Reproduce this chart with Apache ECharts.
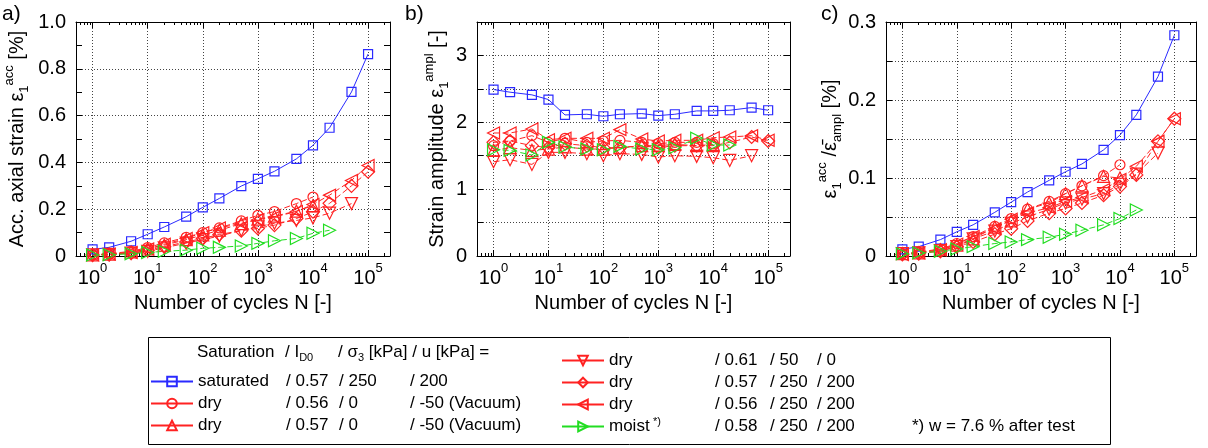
<!DOCTYPE html>
<html>
<head>
<meta charset="utf-8">
<script src="https://cdn.jsdelivr.net/npm/echarts@6/dist/echarts.min.js"></script>
<style>
html,body{margin:0;padding:0;background:#fff;}
#main{width:1208px;height:448px;}
</style>
</head>
<body>
<div id="main"></div>
<script>
// ---------- DATA ----------
const cycles = [1, 2, 5, 10, 20, 50, 100, 200, 500, 1000, 2000, 5000, 10000, 20000, 50000, 100000];

// panel a) accumulated axial strain [%]
const accSat     = [0.028, 0.037, 0.063, 0.093, 0.124, 0.168, 0.208, 0.246, 0.299, 0.330, 0.362, 0.415, 0.473, 0.548, 0.701, 0.863];
const accDryC    = [0.006, 0.010, 0.020, 0.036, 0.056, 0.080, 0.100, 0.120, 0.150, 0.174, 0.190, 0.224, 0.252];
const accDryU    = [0.005, 0.008, 0.017, 0.030, 0.046, 0.070, 0.090, 0.110, 0.138, 0.158, 0.170, 0.192, 0.215];
const accDryD    = [0.005, 0.007, 0.012, 0.020, 0.035, 0.055, 0.070, 0.085, 0.110, 0.125, 0.140, 0.152, 0.163, 0.183, 0.224];
const accDryDm   = [0.004, 0.006, 0.012, 0.025, 0.040, 0.060, 0.075, 0.092, 0.108, 0.118, 0.132, 0.160, 0.189, 0.225, 0.300, 0.360];
const accDryL    = [0.005, 0.008, 0.015, 0.030, 0.050, 0.075, 0.100, 0.120, 0.140, 0.155, 0.167, 0.190, 0.220, 0.260, 0.323, 0.387];
const accMoist   = [0.004, 0.005, 0.010, 0.015, 0.020, 0.025, 0.033, 0.037, 0.043, 0.054, 0.065, 0.075, 0.097, 0.110];

// panel b) strain amplitude [-]
const amplSat    = [2.49, 2.45, 2.41, 2.34, 2.11, 2.12, 2.09, 2.12, 2.13, 2.10, 2.12, 2.17, 2.17, 2.18, 2.22, 2.18];
const amplDryC   = [1.65, 1.72, 1.80, 1.70, 1.76, 1.70, 1.72, 1.73, 1.70, 1.68, 1.70, 1.70, 1.68];
const amplDryU   = [1.58, 1.62, 1.58, 1.60, 1.63, 1.60, 1.60, 1.62, 1.65, 1.65, 1.67, 1.65, 1.67];
const amplDryD   = [1.41, 1.44, 1.37, 1.55, 1.55, 1.53, 1.50, 1.53, 1.52, 1.48, 1.50, 1.49, 1.47, 1.43, 1.50];
const amplDryDm  = [1.70, 1.72, 1.65, 1.62, 1.68, 1.65, 1.62, 1.62, 1.65, 1.62, 1.65, 1.65, 1.65, 1.70, 1.78, 1.72];
const amplDryL   = [1.84, 1.84, 1.90, 1.74, 1.76, 1.76, 1.76, 1.89, 1.75, 1.72, 1.73, 1.73, 1.77, 1.78, 1.80, 1.73];
const amplMoist  = [1.59, 1.58, 1.51, 1.70, 1.63, 1.60, 1.59, 1.64, 1.60, 1.59, 1.62, 1.76, 1.66, 1.66];

// panel c) normalised accumulated strain [%]
const normSat    = [0.0085, 0.012, 0.021, 0.031, 0.040, 0.056, 0.069, 0.082, 0.097, 0.108, 0.118, 0.136, 0.155, 0.181, 0.230, 0.283];
const normDryC   = [0.003, 0.005, 0.009, 0.016, 0.025, 0.038, 0.048, 0.060, 0.070, 0.080, 0.090, 0.103, 0.117];
const normDryU   = [0.003, 0.004, 0.008, 0.014, 0.022, 0.037, 0.045, 0.060, 0.068, 0.080, 0.090, 0.102, 0.100];
const normDryD   = [0.003, 0.004, 0.007, 0.012, 0.022, 0.032, 0.042, 0.050, 0.060, 0.068, 0.073, 0.080, 0.092, 0.105, 0.132];
const normDryDm  = [0.002, 0.003, 0.006, 0.012, 0.018, 0.028, 0.035, 0.045, 0.055, 0.061, 0.068, 0.078, 0.089, 0.104, 0.147, 0.176];
const normDryL   = [0.002, 0.004, 0.008, 0.015, 0.025, 0.035, 0.047, 0.055, 0.062, 0.070, 0.075, 0.085, 0.098, 0.115, 0.147, 0.176];
const normMoist  = [0.003, 0.004, 0.006, 0.009, 0.012, 0.016, 0.018, 0.021, 0.024, 0.028, 0.033, 0.040, 0.048, 0.059];

// tick labels
const yTicksA = ['0', '0.2', '0.4', '0.6', '0.8', '1.0'];
const yTicksB = ['0', '1', '2', '3'];
const yTicksC = ['0', '0.1', '0.2', '0.3'];

// legend texts
const seriesKeys = ['sat', 'dryC', 'dryU', 'dryD', 'dryDm', 'dryL', 'moist'];
const legSat   = ['saturated', '/ 0.57', '/ 250', '/ 200'];
const legDryC  = ['dry', '/ 0.56', '/ 0', '/ -50 (Vacuum)'];
const legDryU  = ['dry', '/ 0.57', '/ 0', '/ -50 (Vacuum)'];
const legDryD  = ['dry', '/ 0.61', '/ 50', '/ 0'];
const legDryDm = ['dry', '/ 0.57', '/ 250', '/ 200'];
const legDryL  = ['dry', '/ 0.56', '/ 250', '/ 200'];
const legMoist = ['moist', '/ 0.58', '/ 250', '/ 200'];

// ---------- CHART ----------
const FONT = 'Liberation Sans, Arial, Helvetica, sans-serif';
const BLUE = '#2a2aff', RED = '#ff2222', GREEN = '#22dd22';

const styles = {
  sat:   {color: BLUE,  symbol: 'rect',     size: 9,  rotate: 0,   dash: 'solid'},
  dryC:  {color: RED,   symbol: 'circle',   size: 10, rotate: 0,   dash: [6, 3]},
  dryU:  {color: RED,   symbol: 'triangle', size: 12, rotate: 0,   dash: [6, 3]},
  dryD:  {color: RED,   symbol: 'triangle', size: 12, rotate: 180, dash: [6, 3]},
  dryDm: {color: RED,   symbol: 'diamond',  size: 13, rotate: 0,   dash: [6, 3]},
  dryL:  {color: RED,   symbol: 'triangle', size: 12, rotate: 90,  dash: [6, 3]},
  moist: {color: GREEN, symbol: 'triangle', size: 12, rotate: -90, dash: [6, 3]}
};

const panelData = [
  {sat: accSat,  dryC: accDryC,  dryU: accDryU,  dryD: accDryD,  dryDm: accDryDm,  dryL: accDryL,  moist: accMoist},
  {sat: amplSat, dryC: amplDryC, dryU: amplDryU, dryD: amplDryD, dryDm: amplDryDm, dryL: amplDryL, moist: amplMoist},
  {sat: normSat, dryC: normDryC, dryU: normDryU, dryD: normDryD, dryDm: normDryDm, dryL: normDryL, moist: normMoist}
];

const grids = [
  {left: 76,  top: 22, width: 314, height: 234},
  {left: 477, top: 22, width: 313, height: 234},
  {left: 886, top: 22, width: 310, height: 234}
];

const gridLine = {show: true, lineStyle: {color: '#444', type: [1, 2], width: 1}};
const frameLine = {show: true, onZero: false, lineStyle: {color: '#000', width: 1}};

function xLabel(v) {
  const e = Math.log10(v);
  if (Math.abs(e - Math.round(e)) < 1e-6) return '{b|10}{s|' + Math.round(e) + '}';
  return '';
}
const xRich = {
  b: {fontSize: 20, fontFamily: FONT, color: '#000', lineHeight: 26, verticalAlign: 'bottom'},
  s: {fontSize: 13, fontFamily: FONT, color: '#000', lineHeight: 14, verticalAlign: 'top'}
};
const nameRich = {
  t:   {fontSize: 20, fontFamily: FONT, color: '#000', lineHeight: 28},
  sub: {fontSize: 13, fontFamily: FONT, color: '#000', lineHeight: 14, verticalAlign: 'bottom'},
  sup: {fontSize: 13, fontFamily: FONT, color: '#000', lineHeight: 14, verticalAlign: 'top'}
};

const xAxes = [], yAxes = [];
for (let g = 0; g < 3; g++) {
  xAxes.push({
    type: 'log', logBase: 10, gridIndex: g, min: 0.5, max: 250000, position: 'bottom',
    axisLine: frameLine,
    axisTick: {show: true, inside: true, length: 6, lineStyle: {color: '#000'}},
    minorTick: {show: true, splitNumber: 9, length: 3, lineStyle: {color: '#000'}},
    splitLine: gridLine,
    axisLabel: {formatter: xLabel, rich: xRich, margin: 6, showMinLabel: false, showMaxLabel: false},
    name: 'Number of cycles N [-]', nameLocation: 'middle', nameGap: 37,
    nameTextStyle: {fontSize: 20, fontFamily: FONT, color: '#000'}
  });
}
for (let g = 0; g < 3; g++) {
  xAxes.push({
    type: 'log', logBase: 10, gridIndex: g, min: 0.5, max: 250000, position: 'top',
    axisLine: frameLine,
    axisTick: {show: true, inside: true, length: 6, lineStyle: {color: '#000'}},
    minorTick: {show: true, splitNumber: 9, length: 3, lineStyle: {color: '#000'}},
    splitLine: {show: false}, axisLabel: {show: false}
  });
}
const yCfg = [
  {min: 0, max: 1.0, interval: 0.2, minor: 2, ticks: yTicksA, step: 0.2,
   name: '{t|Acc. axial strain ε}{sub|1}{sup|acc}{t| [%]}', gap: 45},
  {min: 0, max: 3.5, interval: 0.5, minor: 1, ticks: yTicksB, step: 1,
   name: '{t|Strain amplitude ε}{sub|1}{sup|ampl}{t| [-]}', gap: 26},
  {min: 0, max: 0.3, interval: 0.05, minor: 1, ticks: yTicksC, step: 0.1,
   name: '{t|ε}{sub|1}{sup|acc}{t| /ε̄}{sub|ampl}{t| [%]}', gap: 40}
];
for (let g = 0; g < 3; g++) {
  const c = yCfg[g];
  yAxes.push({
    type: 'value', gridIndex: g, min: c.min, max: c.max, interval: c.interval, position: 'left',
    axisLine: frameLine,
    axisTick: {show: true, inside: true, length: 6, lineStyle: {color: '#000'}},
    minorTick: {show: c.minor > 1, splitNumber: c.minor, length: 6, lineStyle: {color: '#000'}},
    splitLine: gridLine,
    axisLabel: {
      fontSize: 20, fontFamily: FONT, color: '#000', margin: 10,
      formatter: function (v) {
        const k = v / c.step;
        if (Math.abs(k - Math.round(k)) < 1e-6) return c.ticks[Math.round(k)] || '';
        return '';
      }
    },
    name: c.name, nameLocation: 'middle', nameGap: c.gap,
    nameTextStyle: {rich: nameRich, fontSize: 20, fontFamily: FONT, color: '#000'}
  });
}
for (let g = 0; g < 3; g++) {
  const c = yCfg[g];
  yAxes.push({
    type: 'value', gridIndex: g, min: c.min, max: c.max, interval: c.interval, position: 'right',
    axisLine: frameLine,
    axisTick: {show: true, inside: true, length: 6, lineStyle: {color: '#000'}},
    minorTick: {show: c.minor > 1, splitNumber: c.minor, length: 6, lineStyle: {color: '#000'}},
    splitLine: {show: false}, axisLabel: {show: false}
  });
}

const series = [];
for (let g = 0; g < 3; g++) {
  seriesKeys.forEach(function (k) {
    const st = styles[k];
    const vals = panelData[g][k];
    series.push({
      name: k, type: 'line', xAxisIndex: g, yAxisIndex: g,
      data: vals.map(function (v, i) { return [cycles[i], v]; }),
      symbol: st.symbol, symbolSize: st.size, symbolRotate: st.rotate,
      showAllSymbol: true,
      lineStyle: {color: st.color, width: 1, type: st.dash},
      itemStyle: {color: 'rgba(255,255,255,0)', borderColor: st.color, borderWidth: 1.2},
      emphasis: {disabled: true},
      animation: false
    });
  });
}

const legendRows = {sat: legSat, dryC: legDryC, dryU: legDryU, dryD: legDryD, dryDm: legDryDm, dryL: legDryL, moist: legMoist};
const legRich = {
  a:  {fontSize: 17, fontFamily: FONT, color: '#000', width: 88},
  b:  {fontSize: 17, fontFamily: FONT, color: '#000', width: 53},
  c:  {fontSize: 17, fontFamily: FONT, color: '#000', width: 71},
  d:  {fontSize: 17, fontFamily: FONT, color: '#000'},
  a2: {fontSize: 17, fontFamily: FONT, color: '#000', width: 106},
  m:  {fontSize: 17, fontFamily: FONT, color: '#000', width: 44},
  ms: {fontSize: 11, fontFamily: FONT, color: '#000', width: 62, verticalAlign: 'top', lineHeight: 12},
  b2: {fontSize: 17, fontFamily: FONT, color: '#000', width: 55},
  c2: {fontSize: 17, fontFamily: FONT, color: '#000', width: 47}
};
function legLeft(name) {
  const r = legendRows[name];
  return '{a|' + r[0] + '}{b|' + r[1] + '}{c|' + r[2] + '}{d|' + r[3] + '}';
}
function legRight(name) {
  const r = legendRows[name];
  const first = name === 'moist' ? '{m|' + r[0] + '}{ms|*)}' : '{a2|' + r[0] + '}';
  return first + '{b2|' + r[1] + '}{c2|' + r[2] + '}{d|' + r[3] + '}';
}

const option = {
  backgroundColor: '#fff',
  animation: false,
  grid: grids,
  xAxis: xAxes,
  yAxis: yAxes,
  series: series,
  legend: [
    {orient: 'vertical', left: 150, top: 371, padding: 0, itemWidth: 42, itemHeight: 12, itemGap: 1,
     data: ['sat', 'dryC', 'dryU'], formatter: legLeft, selectedMode: false,
     lineStyle: {type: 'solid'},
     textStyle: {fontSize: 17, fontFamily: FONT, color: '#000', lineHeight: 21, rich: legRich}},
    {orient: 'vertical', left: 561, top: 350, padding: 0, itemWidth: 42, itemHeight: 12, itemGap: 1,
     data: ['dryD', 'dryDm', 'dryL', 'moist'], formatter: legRight, selectedMode: false,
     lineStyle: {type: 'solid'},
     textStyle: {fontSize: 17, fontFamily: FONT, color: '#000', lineHeight: 21, rich: legRich}}
  ],
  graphic: [
    {type: 'text', left: 2, top: 4, style: {text: 'a)', font: '21px ' + FONT, fill: '#000'}},
    {type: 'text', left: 405, top: 4, style: {text: 'b)', font: '21px ' + FONT, fill: '#000'}},
    {type: 'text', left: 821, top: 4, style: {text: 'c)', font: '21px ' + FONT, fill: '#000'}},
    {type: 'rect', shape: {x: 148.5, y: 337.5, width: 962, height: 107},
     style: {fill: 'none', stroke: '#000', lineWidth: 1}},
    {type: 'text', x: 197, y: 352, style: {text: 'Saturation', font: '17px ' + FONT, fill: '#000', verticalAlign: 'middle'}},
    {type: 'text', x: 285, y: 352, style: {
      text: '{t|/ I}{s|D0}', verticalAlign: 'middle',
      rich: {t: {fontSize: 17, fontFamily: FONT, color: '#000', lineHeight: 22},
             s: {fontSize: 11, fontFamily: FONT, color: '#000', lineHeight: 12, verticalAlign: 'bottom'}}}},
    {type: 'text', x: 338, y: 352, style: {
      text: '{t|/ σ}{s|3}{t| [kPa] / u [kPa] =}', verticalAlign: 'middle',
      rich: {t: {fontSize: 17, fontFamily: FONT, color: '#000', lineHeight: 22},
             s: {fontSize: 11, fontFamily: FONT, color: '#000', lineHeight: 12, verticalAlign: 'bottom'}}}},
    {type: 'text', x: 912, y: 426, style: {
      text: '*) w = 7.6 % after test', font: '17px ' + FONT, fill: '#000', verticalAlign: 'middle'}}
  ]
};

const chart = echarts.init(document.getElementById('main'), null, {renderer: 'canvas'});
chart.setOption(option);
</script>
</body>
</html>
